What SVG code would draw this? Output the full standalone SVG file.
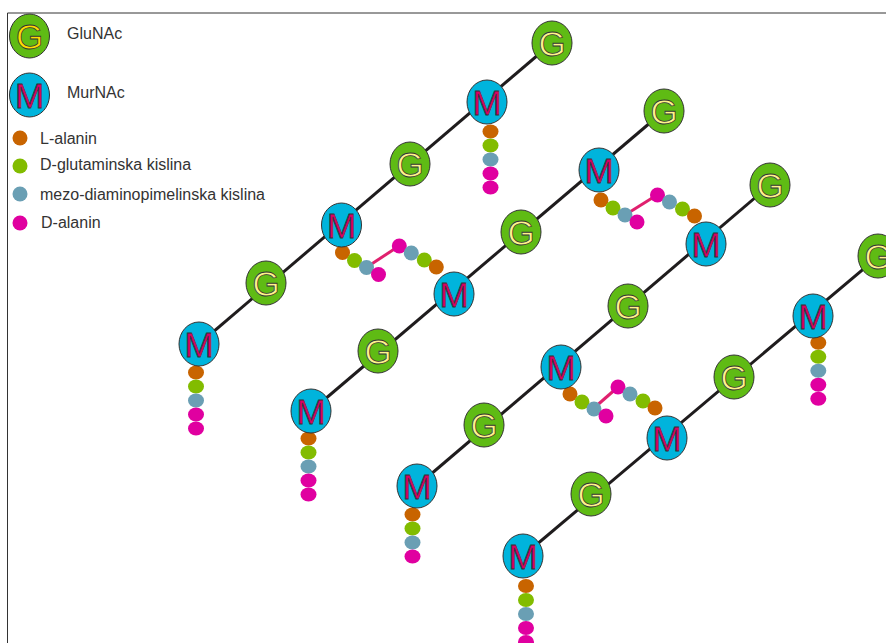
<svg xmlns="http://www.w3.org/2000/svg" width="886" height="643" viewBox="0 0 886 643">
<style>
.t{font-family:"Liberation Sans",Arial,sans-serif;font-size:16px;fill:#333}
.gc{fill:#5fbb14;stroke:#333;stroke-width:1}
.mc{fill:#00b4dc;stroke:#333;stroke-width:1}
.gl{font-family:"Liberation Sans",Arial,sans-serif;font-size:35px;text-anchor:middle;fill:#fff38a;stroke:#333;stroke-width:.8}
.ml{font-family:"Liberation Sans",Arial,sans-serif;font-size:35px;text-anchor:middle;fill:#dc0064;stroke:#333;stroke-width:.8}
.a{fill:#c86400}.b{fill:#82bc00}.c{fill:#6a9fb4}.d{fill:#e000a0}
.ch{stroke:#1f1c1d;stroke-width:3;fill:none}
.x{stroke:#e0206e;stroke-width:3;fill:none}
</style>
<defs>
<g id="G"><ellipse class="gc" rx="20" ry="22"/><text class="gl" y="12.500">G</text></g>
<g id="M"><ellipse class="mc" rx="20" ry="22"/><text class="ml" y="12.500">M</text></g>
<ellipse id="e" rx="8" ry="7"/>
<g id="stem4"><use href="#e" class="a" y="0"/><use href="#e" class="b" y="14"/><use href="#e" class="c" y="28"/><use href="#e" class="d" y="42"/></g>
<g id="stem5"><use href="#stem4"/><use href="#e" class="d" y="56"/></g>
<g id="half"><circle class="a" cx="0" cy="0" r="7.500"/><circle class="b" cx="12" cy="8" r="7.500"/><circle class="c" cx="24" cy="15" r="7.500"/><circle class="d" cx="36" cy="22" r="7.500"/></g>
<g id="half2"><circle class="d" cx="0" cy="0" r="7.500"/><circle class="c" cx="12" cy="7" r="7.500"/><circle class="b" cx="25" cy="14" r="7.500"/><circle class="a" cx="37" cy="21" r="7.500"/></g>
</defs>
<path d="M886 13H7.500V643" fill="none" stroke="#333" stroke-width="1"/>
<g id="connectors">
<path class="ch" d="M199 344L552 43"/>
<path class="ch" d="M311 411L664 111"/>
<path class="ch" d="M417 486L770 185"/>
<path class="ch" d="M523 556L886 250"/>
</g>
<g id="stems">
<use href="#stem5" x="196" y="372.500"/>
<use href="#stem5" x="308.500" y="438.500"/>
<use href="#stem4" x="412.500" y="514.500"/>
<use href="#stem5" x="526" y="586"/>
<use href="#stem5" x="818.300" y="342.700"/>
<use href="#stem5" x="490.500" y="131.500"/>
<path class="x" d="M367 267L399 246"/><use href="#half" x="342.500" y="252.500"/><use href="#half2" x="399.300" y="246"/>
<path class="x" d="M625 215L657 195"/><use href="#half" x="601" y="200"/><use href="#half2" x="657.500" y="195"/>
<path class="x" d="M594 408L618 387"/><use href="#half" x="570" y="394"/><use href="#half2" x="618" y="387"/>
</g>
<g id="chain1">
<use id="n1" href="#M" x="199" y="344"/><use id="n2" href="#G" x="266" y="283"/><use id="n3" href="#M" x="341.500" y="225"/><use id="n4" href="#G" x="410" y="164"/><use id="n5" href="#M" x="487" y="102"/><use id="n6" href="#G" x="552" y="43"/>
</g>
<g id="chain2">
<use id="n7" href="#M" x="311" y="411"/><use id="n8" href="#G" x="378" y="351"/><use id="n9" href="#M" x="454" y="294"/><use id="n10" href="#G" x="521" y="232"/><use id="n11" href="#M" x="599" y="170"/><use id="n12" href="#G" x="664" y="111"/>
</g>
<g id="chain3">
<use id="n13" href="#M" x="417" y="486"/><use id="n14" href="#G" x="484" y="425"/><use id="n15" href="#M" x="561" y="367"/><use id="n16" href="#G" x="628" y="306"/><use id="n17" href="#M" x="706" y="244"/><use id="n18" href="#G" x="770" y="185"/>
</g>
<g id="chain4">
<use id="n19" href="#M" x="523" y="556"/><use id="n20" href="#G" x="591" y="494"/><use id="n21" href="#M" x="667" y="438"/><use id="n22" href="#G" x="734" y="377"/><use id="n23" href="#M" x="813" y="316"/><use id="n24" href="#G" x="878" y="256"/>
</g>
<g id="legend">
<g id="leg-g"><ellipse class="gc" cx="29.500" cy="36" rx="20" ry="22"/><text class="gl" x="29.500" y="48.500" style="fill:#ffdc00">G</text><text class="t" x="67" y="39">GluNAc</text></g>
<g id="leg-m"><use href="#M" x="29.500" y="95"/><text class="t" x="67" y="98">MurNAc</text></g>
<g id="leg-la"><circle class="a" cx="20" cy="138" r="7.500"/><text class="t" x="40" y="144">L-alanin</text></g>
<g id="leg-dg"><circle class="b" cx="20" cy="166" r="7.500"/><text class="t" x="40" y="170">D-glutaminska kislina</text></g>
<g id="leg-mz"><circle class="c" cx="20" cy="194" r="7.500"/><text class="t" x="40" y="200">mezo-diaminopimelinska kislina</text></g>
<g id="leg-da"><circle class="d" cx="20" cy="223" r="7.500"/><text class="t" x="41" y="228">D-alanin</text></g>
</g>
</svg>
